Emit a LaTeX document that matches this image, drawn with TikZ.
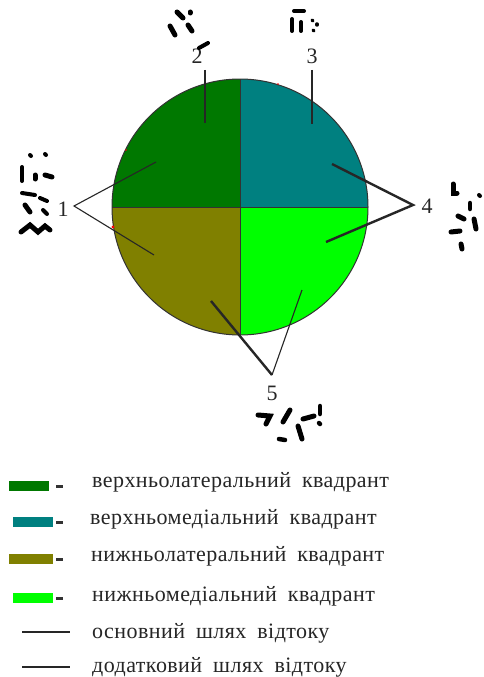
\documentclass[tikz,border=0pt]{standalone}
\usepackage{fontspec}
\setmainfont{Liberation Serif}
\newfontfamily\legfont[LetterSpace=2]{Liberation Serif}
\begin{document}
\begin{tikzpicture}[x=1pt,y=-1pt,
  thinline/.style={line width=1.1pt,draw=black!85},
  thickline/.style={line width=2.4pt,draw=black!85},
  edge/.style={line width=1pt,draw=black!80},
  blob/.style={line width=5pt,line cap=round,draw=black},
  numlabel/.style={font=\fontsize{22}{22}\selectfont,inner sep=0pt,text=black!85},
  legtext/.style={font=\legfont\fontsize{22}{22}\selectfont,anchor=west,inner sep=0pt,text=black!85},
  legbar/.style={minimum width=40pt,minimum height=10pt,inner sep=0pt},
  legdash/.style={fill=black!80,minimum width=7pt,minimum height=3pt,inner sep=0pt}]
\definecolor{ulq}{HTML}{007800}
\definecolor{urq}{HTML}{008080}
\definecolor{llq}{HTML}{808000}
\definecolor{lrq}{HTML}{00FF00}
\useasboundingbox[fill=white] (0,0) rectangle (483,677);
% quadrants
\fill[ulq] (240,207) -- (112,207) arc[start angle=180,end angle=270,radius=128] -- cycle;
\fill[urq] (240,207) -- (240,79) arc[start angle=270,end angle=360,radius=128] -- cycle;
\fill[lrq] (240,207) -- (368,207) arc[start angle=0,end angle=90,radius=128] -- cycle;
\fill[llq] (240,207) -- (240,335) arc[start angle=90,end angle=180,radius=128] -- cycle;
\draw[edge] (240,207) circle[radius=128];
\draw[edge] (112,207) -- (368,207);
\draw[edge] (240,79) -- (240,335);
% red specks
\fill[red] (113,227) circle[radius=1.6];
\fill[red] (126,150) circle[radius=0.9];
\fill[red] (278,84) circle[radius=0.9];
% labels and connectors
\node[numlabel] (n1) at (63,209) {1};
\node[numlabel] (n2) at (197,56) {2};
\node[numlabel] (n3) at (312,56) {3};
\node[numlabel] (n4) at (427,206) {4};
\node[numlabel] (n5) at (272,393) {5};
\coordinate (a1) at (74,206);
\coordinate (e1a) at (156,162);
\coordinate (e1b) at (154,255);
\coordinate (s2) at (205,70);
\coordinate (e2) at (205,123);
\coordinate (s3) at (312,70);
\coordinate (e3) at (312,124);
\coordinate (a4) at (413,205);
\coordinate (e4a) at (332,164);
\coordinate (e4b) at (326,242);
\coordinate (a5) at (272,375);
\coordinate (e5a) at (211,301);
\coordinate (e5b) at (302,290);
\draw[thinline] (e1a) -- (a1) -- (e1b);
\draw[thickline] (s2) -- (e2);
\draw[thinline] (s3) -- (e3);
\draw[thickline] (e4a) -- (a4) -- (e4b);
\draw[thickline] (e5a) -- (a5);
\draw[thinline] (e5b) -- (a5);
% blobs top-left
\draw[blob] (177,12) -- (183,18);
\draw[blob] (170,26) -- (175,35);
\draw[blob] (190,12) -- (190,13);
\draw[blob] (188,25) -- (192,31);
\draw[blob,line width=4pt] (199,48) -- (208,43);
% blobs top-right
\draw[blob,line width=4pt] (294,11) -- (304,11);
\draw[blob,line width=4pt] (292,19) -- (292,31);
\draw[blob,line width=4pt] (301,22) -- (301,31);
\draw[blob,line width=3.5pt] (312,20) -- (313,21);
\draw[blob,line width=3.5pt] (317,24) -- (317,25);
\draw[blob,line width=3.5pt] (313,30) -- (314,31);
% blobs left
\draw[blob,line width=4pt] (30,155) -- (31,156);
\draw[blob,line width=4pt] (45,154) -- (46,155);
\draw[blob,line width=4pt] (22,167) -- (22,181);
\draw[blob] (35,175) -- (35,179);
\draw[blob] (45,175) -- (52,177);
\draw[blob,line width=4pt] (22,193) -- (35,195);
\draw[blob,line width=4pt] (40,198) -- (47,201);
\draw[blob] (25,205) -- (30,212);
\draw[blob,line width=4pt] (43,210) -- (47,214);
\draw[blob] (21,232) -- (30,225) -- (38,232) -- (45,226) -- (50,230);
% blobs right
\draw[blob] (453,184) -- (453,193) -- (457,193);
\draw[blob,line width=4pt] (479,195) -- (480,196);
\draw[blob,line width=4.5pt] (470,203) -- (470,209);
\draw[blob] (458,216) -- (464,219);
\draw[blob] (474,219) -- (476,229);
\draw[blob] (451,232) -- (460,231);
\draw[blob] (461,244) -- (462,249);
% blobs bottom
\draw[blob] (258,415) -- (270,416) -- (266,424);
\draw[blob] (283,422) -- (290,410);
\draw[blob,line width=4.5pt] (279,439) -- (285,440);
\draw[blob] (298,426) -- (302,439);
\draw[blob] (303,419) -- (314,416);
\draw[blob,line width=4.5pt] (320,406) -- (320,414);
\draw[blob,line width=4.5pt] (319,423) -- (320,424);
% legend
\node[legbar,fill=ulq] (b1) at (29,486) {};
\node[legdash] (d1) at (59,486) {};
\node[legtext] (t1) at (92,482) {верхньолатеральний\hspace{11pt}квадрант};
\node[legbar,fill=urq] (b2) at (33,522) {};
\node[legdash] (d2) at (59,522) {};
\node[legtext] (t2) at (90,519) {верхньомедіальний\hspace{11pt}квадрант};
\node[legbar,fill=llq,minimum width=44pt] (b3) at (31,559) {};
\node[legdash] (d3) at (59,559) {};
\node[legtext] (t3) at (91,556) {нижньолатеральний\hspace{11pt}квадрант};
\node[legbar,fill=lrq] (b4) at (33,598) {};
\node[legdash] (d4) at (59,598) {};
\node[legtext] (t4) at (92,596) {нижньомедіальний\hspace{11pt}квадрант};
\coordinate (l5a) at (22,632);
\coordinate (l5b) at (70,632);
\draw[thinline] (l5a) -- (l5b);
\node[legtext] (t5) at (92,633) {основний\hspace{11pt}шлях\hspace{11pt}відтоку};
\coordinate (l6a) at (22,667);
\coordinate (l6b) at (70,667);
\draw[thickline] (l6a) -- (l6b);
\node[legtext] (t6) at (92,667) {додатковий\hspace{11pt}шлях\hspace{11pt}відтоку};
\end{tikzpicture}
\end{document}
